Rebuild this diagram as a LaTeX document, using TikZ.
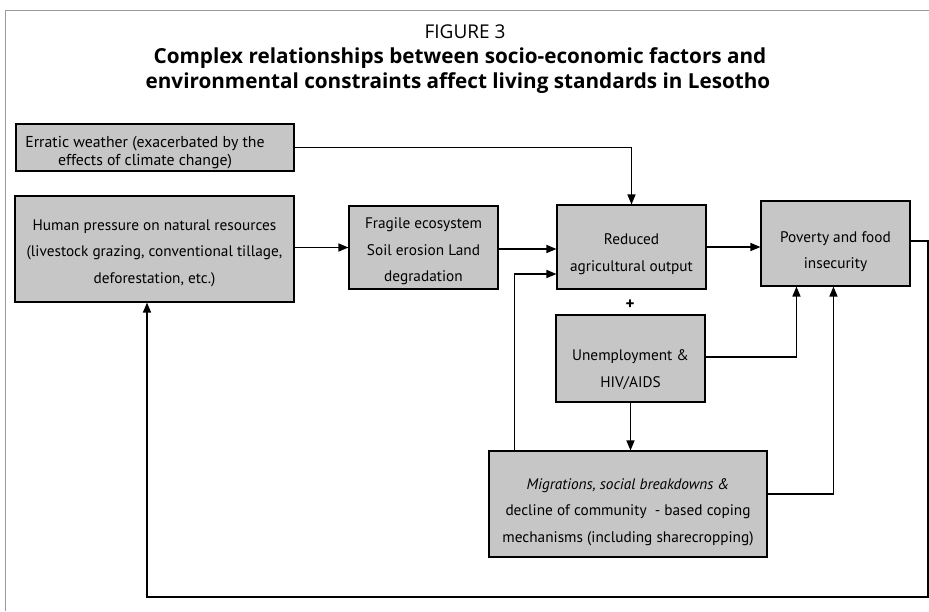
\documentclass[tikz,border=0pt]{standalone}
\usepackage{fontspec}
\setmainfont{PT Sans}
\newfontfamily\titlefont{Open Sans}
\usetikzlibrary{arrows.meta,calc}
\definecolor{boxgray}{HTML}{C6C6C6}
\definecolor{framegray}{HTML}{9A9A9A}
\tikzset{
  box/.style={draw=black, line width=1.1pt, fill=boxgray, inner sep=0pt},
  boxtext/.style={align=center, inner sep=0pt, yshift=-7pt, font=\fontsize{15.3}{26.5}\selectfont},
  arr/.style={line width=1.4pt, -{Triangle[length=10pt,width=8pt]}},
}
\begin{document}
\begin{tikzpicture}[x=1pt,y=-1pt]
\useasboundingbox (0,0) rectangle (929,611);
% frame
\draw[framegray, line width=0.8pt] (5,611) -- (5,10) -- (929,10);
% titles
\node (fig) at (465,32) {\titlefont\fontsize{19}{20}\selectfont FIGURE 3};
\node (t1) at (460,58) {\titlefont\fontsize{20.7}{22}\selectfont\bfseries Complex relationships between socio-economic factors and};
\node (t2) at (458,83) {\titlefont\fontsize{20.7}{22}\selectfont\bfseries environmental constraints affect living standards in Lesotho};
% boxes
\node[box, minimum width=278pt, minimum height=47pt,
  label={[align=center, inner sep=0pt, font=\fontsize{15.8}{18}\selectfont, xshift=-10pt, yshift=-5pt]center:{Erratic weather (exacerbated by the\\effects of climate change)}}] (erratic) at (155,147.5) {};
\node[box, minimum width=279pt, minimum height=106pt,
  label={[boxtext, yshift=3pt]center:{Human pressure on natural resources\\(livestock grazing, conventional tillage,\\deforestation, etc.)}}] (human) at (154.5,249) {};
\node[box, minimum width=149pt, minimum height=83pt,
  label={[boxtext, yshift=3pt]center:{Fragile ecosystem\\Soil erosion Land\\degradation}}] (fragile) at (423.5,247.5) {};
\node[box, minimum width=149pt, minimum height=84pt,
  label={[boxtext]center:{Reduced\\agricultural output}}] (reduced) at (631.5,247) {};
\node[box, minimum width=149pt, minimum height=85pt,
  label={[boxtext, yshift=-1pt]center:{Poverty and food\\insecurity}}] (poverty) at (835.5,243.5) {};
\node[font=\fontsize{17}{18}\selectfont\bfseries] (plus) at (630,305) {+};
\node[box, minimum width=149pt, minimum height=87pt,
  label={[boxtext, yshift=-4pt]center:{Unemployment \&\\HIV/AIDS}}] (unemp) at (630.5,358.5) {};
\node[box, minimum width=278pt, minimum height=106pt,
  label={[boxtext, yshift=-1pt]center:{\itshape Migrations, social breakdowns \&\\decline of community~ - based coping\\mechanisms (including sharecropping)}}] (migr) at (628,504) {};
% coordinates
\coordinate (cR) at (928,597);
\coordinate (cL) at (147,597);
% connectors
\draw[arr] (erratic.east) -| (reduced.north);
\draw[arr] (human.east |- fragile.west) -- (fragile.west);
\draw[arr] ($(fragile.east)+(0,1.5)$) -- ($(reduced.west)+(0,2)$);
\draw[arr] ($(migr.north west)+(26,0)$) |- ($(reduced.west)+(0,27)$);
\draw[arr] (reduced.east) -- (reduced.east -| poverty.west);
\draw[arr] (unemp.south) -- (unemp.south |- migr.north);
\draw[arr] ($(unemp.east)+(0,-1.5)$) -| ($(poverty.south west)+(36,0)$);
\draw[arr] ($(migr.east)+(0,-10)$) -| ($(poverty.south west)+(73,0)$);
\draw[arr] ($(poverty.east)+(0,-2.5)$) -| (cR) -- (cL) -- (cL |- human.south);
\end{tikzpicture}
\end{document}
